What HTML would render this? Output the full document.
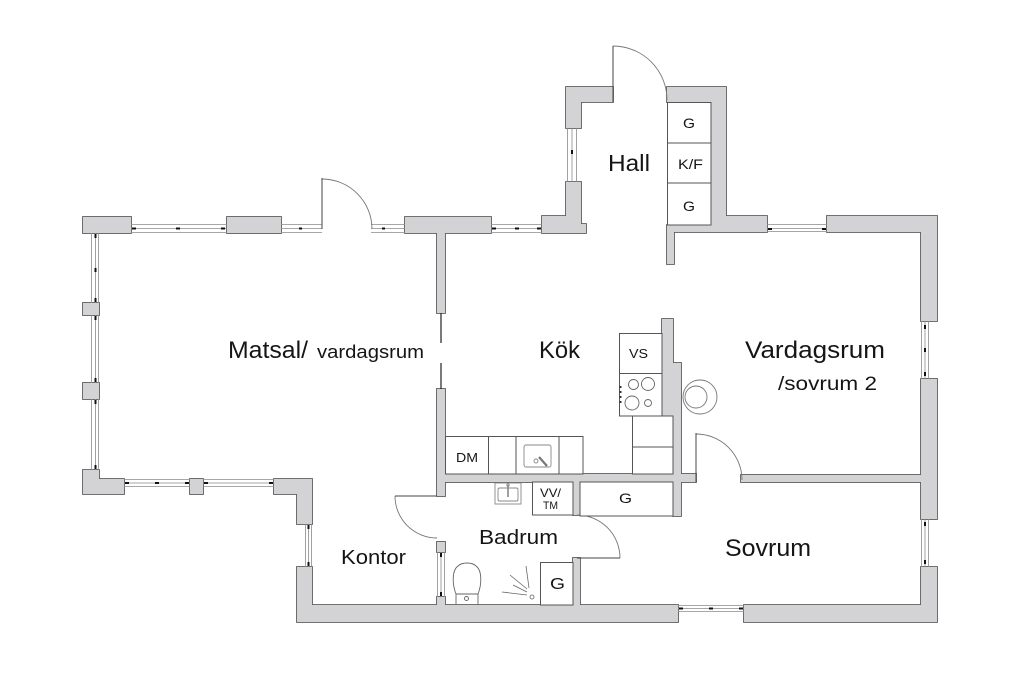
<!DOCTYPE html>
<html>
<head>
<meta charset="utf-8">
<style>
html,body{margin:0;padding:0;background:#fff;}
svg{display:block;}
text{font-family:"Liberation Sans",sans-serif;fill:#151515;}
</style>
</head>
<body>
<svg width="1024" height="683" viewBox="0 0 1024 683" xmlns="http://www.w3.org/2000/svg">
<defs>
<g id="walls">
 <rect x="83" y="217" width="48" height="16"/>
 <rect x="227" y="217" width="54" height="16"/>
 <polygon points="405,217 491,217 491,233 445,233 445,313 437,313 437,233 405,233"/>
 <polygon points="566,128 566,87 613,87 613,102 581,102 581,128"/>
 <polygon points="542,216 566,216 566,182 581,182 581,224 586,224 586,233 542,233"/>
 <polygon points="667,87 726,87 726,216 767,216 767,232 674,232 674,264 667,264 667,225 711,225 711,102 667,102"/>
 <polygon points="827,216 937,216 937,321 921,321 921,232 827,232"/>
 <rect x="921" y="379" width="16" height="140"/>
 <polygon points="921,567 937,567 937,622 744,622 744,605 921,605"/>
 <polygon points="297,567 312,567 312,605 678,605 678,622 297,622"/>
 <polygon points="274,479 312,479 312,524 297,524 297,494 274,494"/>
 <rect x="190" y="479" width="13" height="15"/>
 <polygon points="83,470 99,470 99,479 124,479 124,494 83,494"/>
 <rect x="83" y="303" width="16" height="12"/>
 <rect x="83" y="383" width="16" height="16"/>
 <rect x="437" y="389" width="8" height="107"/>
 <rect x="437" y="542" width="8" height="10"/>
 <rect x="437" y="597" width="8" height="9"/>
 <rect x="445" y="474" width="251" height="8"/>
 <polygon points="662,319 673,319 673,363 681,363 681,516 673,516 673,416 662,416"/>
 <rect x="741" y="475" width="181" height="7"/>
 <rect x="573" y="481" width="7" height="34"/>
 <rect x="573" y="558" width="7" height="48"/>
</g>
</defs>

<!-- walls -->
<use href="#walls" fill="#d3d3d5" stroke="#5c5c5c" stroke-width="1.8"/>
<use href="#walls" fill="#d3d3d5" stroke="none"/>

<!-- windows -->
<g stroke="#8a8a8a" stroke-width="0.8" fill="none">
 <!-- top horizontal windows -->
 <path d="M131,224.5H227M131,228.5H227M131,232.5H227"/>
 <path d="M281,224.5H322M281,228.5H322M281,232.5H322"/>
 <path d="M371,224.5H405M371,228.5H405M371,232.5H405"/>
 <path d="M491,224.5H542M491,228.5H542M491,232.5H542"/>
 <path d="M767,224.5H827M767,228.5H827M767,231.5H827"/>
 <!-- left vertical windows -->
 <path d="M91.5,233V303M95.5,233V303M98.5,233V303"/>
 <path d="M91.5,315V383M95.5,315V383M98.5,315V383"/>
 <path d="M91.5,399V470M95.5,399V470M98.5,399V470"/>
 <!-- bottom matsal windows -->
 <path d="M124,479.5H190M124,483H190M124,486.5H190"/>
 <path d="M203,479.5H274M203,483H274M203,486.5H274"/>
 <!-- hall left window -->
 <path d="M567.5,128V182M572,128V182M576.5,128V182"/>
 <!-- right windows -->
 <path d="M921.5,321V379M925,321V379M928.5,321V379"/>
 <path d="M921.5,519V567M925,519V567M928.5,519V567"/>
 <!-- bottom sovrum window -->
 <path d="M678,605.5H744M678,608.5H744M678,611.5H744"/>
 <!-- kontor window -->
 <path d="M305.5,524V567M308.5,524V567M311.5,524V567"/>
 <!-- bath window -->
 <path d="M437.5,552V597M441,552V597M444.5,552V597"/>
</g>
<!-- window black dashes -->
<g fill="#111">
 <rect x="132" y="227.5" width="4" height="2"/><rect x="176" y="227.5" width="4" height="2"/><rect x="221" y="227.5" width="4" height="2"/>
 <rect x="299" y="227.5" width="3" height="2"/>
 <rect x="382" y="227.5" width="3" height="2"/>
 <rect x="492" y="227.5" width="4" height="2"/><rect x="515" y="227.5" width="4" height="2"/><rect x="537" y="227.5" width="4" height="2"/>
 <rect x="768" y="228" width="4" height="2"/><rect x="822" y="228" width="4" height="2"/>
 <rect x="94.5" y="234" width="2" height="4"/><rect x="94.5" y="268" width="2" height="4"/><rect x="94.5" y="298" width="2" height="4"/>
 <rect x="94.5" y="316" width="2" height="4"/><rect x="94.5" y="378" width="2" height="4"/>
 <rect x="94.5" y="400" width="2" height="4"/><rect x="94.5" y="465" width="2" height="4"/>
 <rect x="125" y="482" width="4" height="2"/><rect x="155" y="482" width="4" height="2"/><rect x="185" y="482" width="4" height="2"/>
 <rect x="204" y="482" width="4" height="2"/><rect x="269" y="482" width="4" height="2"/>
 <rect x="571" y="150" width="2" height="4"/>
 <rect x="924" y="325" width="2" height="4"/><rect x="924" y="348" width="2" height="4"/><rect x="924" y="372" width="2" height="4"/>
 <rect x="924" y="522" width="2" height="4"/><rect x="924" y="560" width="2" height="4"/>
 <rect x="679" y="607.5" width="4" height="2"/><rect x="709" y="607.5" width="4" height="2"/><rect x="739" y="607.5" width="4" height="2"/>
 <rect x="307.5" y="525" width="2" height="4"/><rect x="307.5" y="562" width="2" height="4"/>
 <rect x="440" y="553" width="2" height="4"/><rect x="440" y="592" width="2" height="4"/>
</g>

<!-- thin divider line Matsal/Kök -->
<path d="M441,313V343M441,363V389" stroke="#222" stroke-width="1.2"/>

<!-- doors -->
<g stroke="#777" stroke-width="0.9" fill="none">
 <path d="M322,179 A50,50 0 0 1 372,229"/>
 <path d="M613,46 A54,54 0 0 1 667,100"/>
 <path d="M696,434 A46,46 0 0 1 742,480"/>
 <path d="M620,558 A43,43 0 0 0 577,515"/>
 <path d="M395,496 A42,42 0 0 0 437,538"/>
</g>
<g stroke="#444" stroke-width="1" fill="none">
 <path d="M322,178V229"/>
 <path d="M613,46V102"/>
 <path d="M696,433V482"/>
 <path d="M577,558H620"/>
 <path d="M395,496H437"/>
</g>

<!-- fixtures -->
<g stroke="#555" stroke-width="1" fill="#fff">
 <!-- hall cabinets -->
 <rect x="667.5" y="102.5" width="43.5" height="40.5"/>
 <rect x="667.5" y="143" width="43.5" height="40"/>
 <rect x="667.5" y="183" width="43.5" height="42"/>
 <!-- kitchen counter -->
 <rect x="445.5" y="436.5" width="137.5" height="37.5"/>
 <!-- VS & stove -->
 <rect x="619.5" y="333.5" width="42.5" height="40"/>
 <rect x="619.5" y="373.5" width="42.5" height="42.5"/>
 <!-- cabinets under -->
 <rect x="632.5" y="416" width="40.5" height="31"/>
 <rect x="632.5" y="447" width="40.5" height="27"/>
 <!-- VV/TM -->
 <rect x="532.5" y="482" width="40.5" height="33"/>
 <!-- sovrum G closet -->
 <rect x="580" y="482" width="93" height="34"/>
 <!-- bath G -->
 <rect x="540.5" y="562.5" width="32.5" height="42.5"/>
</g>
<g stroke="#555" stroke-width="1" fill="none">
 <path d="M488.5,437V474M516,437V474M559,437V474"/>
</g>
<!-- kitchen sink -->
<g stroke="#888" stroke-width="0.9" fill="none">
 <rect x="524" y="445" width="27" height="22" rx="2"/>
 <circle cx="536" cy="461" r="2"/>
 <path d="M539,457 L547,466" stroke-width="2.2" stroke="#777"/>
</g>
<!-- stove burners -->
<g stroke="#666" stroke-width="0.9" fill="none">
 <circle cx="633.5" cy="384.5" r="5"/>
 <circle cx="648" cy="384" r="6.5"/>
 <circle cx="632" cy="403" r="7"/>
 <circle cx="648" cy="403" r="3.5"/>
</g>
<g fill="#333">
 <rect x="619.5" y="386" width="2" height="2"/><rect x="619.5" y="391" width="2" height="2"/>
 <rect x="619.5" y="396" width="2" height="2"/><rect x="619.5" y="401" width="2" height="2"/>
</g>
<!-- round object -->
<g stroke="#777" stroke-width="0.9" fill="none">
 <circle cx="700" cy="397" r="17"/>
 <circle cx="696" cy="397" r="11"/>
</g>
<!-- bath basin -->
<g stroke="#888" stroke-width="0.9" fill="none">
 <rect x="495" y="483" width="26" height="21"/>
 <rect x="498" y="488" width="20" height="13" rx="1.5"/>
 <path d="M508,485 V497" stroke-width="1.6"/>
 <circle cx="508" cy="485" r="1.2"/>
</g>
<!-- toilet -->
<g stroke="#666" stroke-width="0.9" fill="none">
 <path d="M456,605 L456,594 C452,584 452,570 458,566 C462,562 472,562 476,566 C482,570 482,584 478,594 L478,605"/>
 <path d="M456,594 H478"/>
 <circle cx="466.5" cy="598.5" r="2"/>
</g>
<!-- shower -->
<g stroke="#666" stroke-width="0.8" fill="none">
 <circle cx="532" cy="597" r="2"/>
 <path d="M510,575 L527,589"/>
 <path d="M526,566 L529,588"/>
 <path d="M502,592 L527,595"/>
 <path d="M513,585 L527,592"/>
</g>

<!-- labels -->
<text x="608" y="171" font-size="23" textLength="42" lengthAdjust="spacingAndGlyphs">Hall</text>
<text x="683" y="128" font-size="14" textLength="12" lengthAdjust="spacingAndGlyphs">G</text>
<text x="678" y="169" font-size="14" textLength="25" lengthAdjust="spacingAndGlyphs">K/F</text>
<text x="683" y="211" font-size="14" textLength="12" lengthAdjust="spacingAndGlyphs">G</text>
<text x="228" y="358" font-size="24" textLength="80" lengthAdjust="spacingAndGlyphs">Matsal/</text>
<text x="317" y="358" font-size="18" textLength="107" lengthAdjust="spacingAndGlyphs">vardagsrum</text>
<text x="539" y="358" font-size="24" textLength="41" lengthAdjust="spacingAndGlyphs">Kök</text>
<text x="745" y="358" font-size="24" textLength="140" lengthAdjust="spacingAndGlyphs">Vardagsrum</text>
<text x="778" y="390" font-size="19" textLength="99" lengthAdjust="spacingAndGlyphs">/sovrum 2</text>
<text x="629" y="358" font-size="13" textLength="19" lengthAdjust="spacingAndGlyphs">VS</text>
<text x="456" y="462" font-size="13" textLength="22" lengthAdjust="spacingAndGlyphs">DM</text>
<text x="540" y="497" font-size="12" textLength="21" lengthAdjust="spacingAndGlyphs">VV/</text>
<text x="543" y="509" font-size="11" textLength="15" lengthAdjust="spacingAndGlyphs">TM</text>
<text x="619" y="503" font-size="14" textLength="13" lengthAdjust="spacingAndGlyphs">G</text>
<text x="479" y="544" font-size="20" textLength="79" lengthAdjust="spacingAndGlyphs">Badrum</text>
<text x="341" y="564" font-size="20" textLength="65" lengthAdjust="spacingAndGlyphs">Kontor</text>
<text x="550" y="589" font-size="16" textLength="15" lengthAdjust="spacingAndGlyphs">G</text>
<text x="725" y="556" font-size="24" textLength="86" lengthAdjust="spacingAndGlyphs">Sovrum</text>
</svg>
</body>
</html>
